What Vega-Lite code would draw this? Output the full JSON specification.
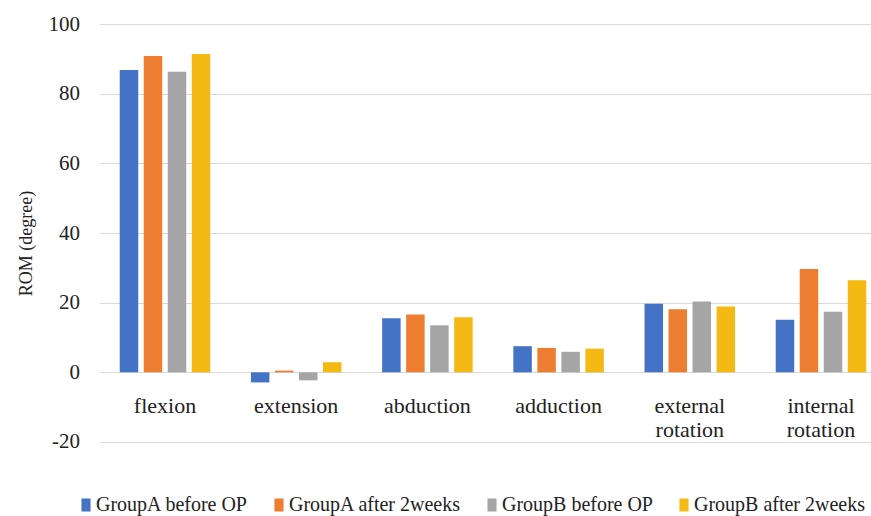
{
  "$schema": "https://vega.github.io/schema/vega-lite/v6.json",
  "width": 772,
  "height": 418,
  "autosize": {"type": "none"},
  "padding": {"left": 99.4, "top": 24, "right": 0, "bottom": 74},
  "background": "white",
  "config": {"view": {"stroke": null}, "font": "Liberation Serif"},
  "data": {
    "values": [
      {"motion": "flexion", "group": "GroupA before OP", "rom": 86.8},
      {"motion": "flexion", "group": "GroupA after 2weeks", "rom": 90.8},
      {"motion": "flexion", "group": "GroupB before OP", "rom": 86.3},
      {"motion": "flexion", "group": "GroupB after 2weeks", "rom": 91.4},
      {"motion": "extension", "group": "GroupA before OP", "rom": -2.9},
      {"motion": "extension", "group": "GroupA after 2weeks", "rom": 0.5},
      {"motion": "extension", "group": "GroupB before OP", "rom": -2.3},
      {"motion": "extension", "group": "GroupB after 2weeks", "rom": 2.9},
      {"motion": "abduction", "group": "GroupA before OP", "rom": 15.5},
      {"motion": "abduction", "group": "GroupA after 2weeks", "rom": 16.6},
      {"motion": "abduction", "group": "GroupB before OP", "rom": 13.5},
      {"motion": "abduction", "group": "GroupB after 2weeks", "rom": 15.8},
      {"motion": "adduction", "group": "GroupA before OP", "rom": 7.5},
      {"motion": "adduction", "group": "GroupA after 2weeks", "rom": 7.0},
      {"motion": "adduction", "group": "GroupB before OP", "rom": 5.9},
      {"motion": "adduction", "group": "GroupB after 2weeks", "rom": 6.8},
      {"motion": "external rotation", "group": "GroupA before OP", "rom": 19.7},
      {"motion": "external rotation", "group": "GroupA after 2weeks", "rom": 18.1},
      {"motion": "external rotation", "group": "GroupB before OP", "rom": 20.3},
      {"motion": "external rotation", "group": "GroupB after 2weeks", "rom": 18.9},
      {"motion": "internal rotation", "group": "GroupA before OP", "rom": 15.1},
      {"motion": "internal rotation", "group": "GroupA after 2weeks", "rom": 29.7},
      {"motion": "internal rotation", "group": "GroupB before OP", "rom": 17.4},
      {"motion": "internal rotation", "group": "GroupB after 2weeks", "rom": 26.4}
    ]
  },
  "mark": {"type": "bar"},
  "encoding": {
    "x": {
      "field": "motion",
      "type": "nominal",
      "sort": ["flexion", "extension", "abduction", "adduction", "external rotation", "internal rotation"],
      "scale": {"range": [0, 787.2], "paddingInner": 0.31, "paddingOuter": 0.155},
      "axis": {
        "title": null,
        "orient": "bottom",
        "offset": -70,
        "domain": false,
        "ticks": false,
        "grid": false,
        "labelAngle": 0,
        "labelFontSize": 22,
        "labelColor": "#222222",
        "labelPadding": 24,
        "labelLineHeight": 24,
        "labelExpr": "split(datum.label, ' ')"
      }
    },
    "xOffset": {
      "field": "group",
      "type": "nominal",
      "sort": ["GroupA before OP", "GroupA after 2weeks", "GroupB before OP", "GroupB after 2weeks"],
      "scale": {"paddingInner": 0.23, "paddingOuter": 0}
    },
    "y": {
      "field": "rom",
      "type": "quantitative",
      "scale": {"domain": [-20, 100], "nice": false},
      "axis": {
        "title": "ROM (degree)",
        "values": [-20, 0, 20, 40, 60, 80, 100],
        "labelExpr": "toString(datum.value)",
        "grid": true,
        "gridColor": "#d9d9d9",
        "gridWidth": 1,
        "domain": false,
        "ticks": false,
        "labelFontSize": 21,
        "labelPadding": 20,
        "labelColor": "#222222",
        "titleFontSize": 18,
        "titleFontWeight": "normal",
        "titleColor": "#222222",
        "titleX": -68,
        "titleY": 219,
        "titleAngle": 270,
        "titleAlign": "center",
        "titleBaseline": "alphabetic"
      }
    },
    "color": {
      "field": "group",
      "type": "nominal",
      "sort": ["GroupA before OP", "GroupA after 2weeks", "GroupB before OP", "GroupB after 2weeks"],
      "scale": {
        "domain": ["GroupA before OP", "GroupA after 2weeks", "GroupB before OP", "GroupB after 2weeks"],
        "range": ["#4472C4", "#ED7D31", "#A5A5A5", "#F5B914"]
      },
      "legend": {
        "title": null,
        "orient": "none",
        "legendX": -23.4,
        "legendY": 471,
        "direction": "horizontal",
        "columns": 4,
        "padding": 0,
        "columnPadding": 20,
        "symbolType": "M-0.7,-1H0.7V1H-0.7Z",
        "symbolSize": 169,
        "symbolStrokeWidth": 0,
        "labelFontSize": 20,
        "labelOffset": 0,
        "labelColor": "#222222",
        "labelLimit": 400
      }
    }
  }
}
